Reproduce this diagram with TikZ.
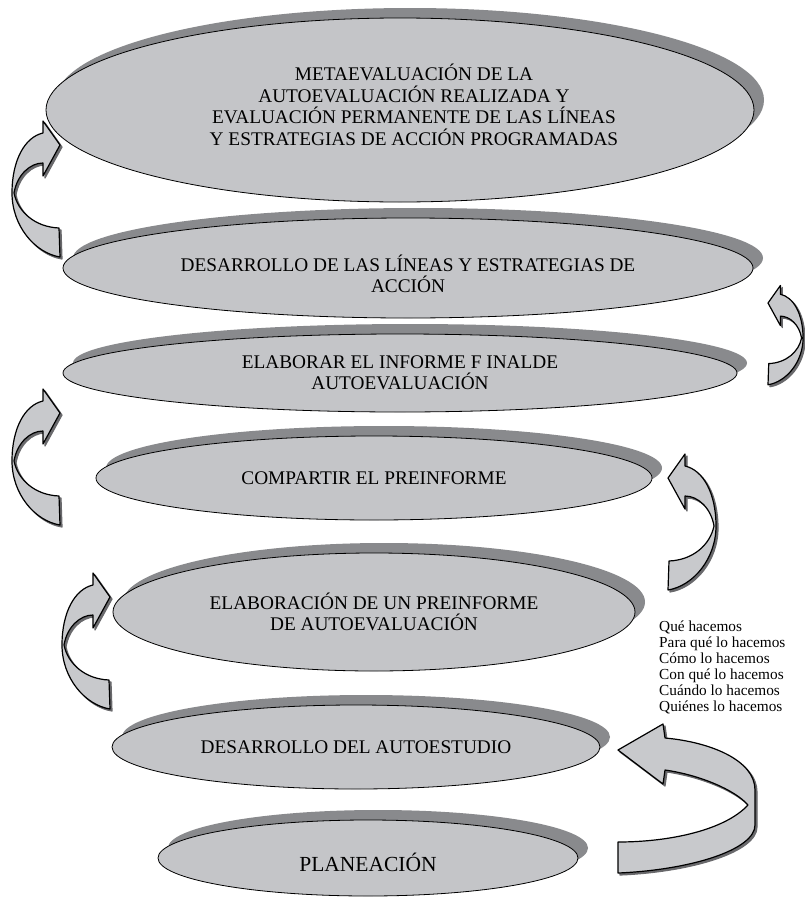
\documentclass[tikz,border=0pt]{standalone}
\usepackage{fontspec}
\setmainfont{Liberation Serif}
\usetikzlibrary{shapes.geometric,shadows}
\definecolor{ellfill}{RGB}{196,197,200}
\definecolor{ellshadow}{RGB}{137,138,141}
\definecolor{arrfill}{RGB}{200,201,204}
\definecolor{arrshadow}{RGB}{105,105,108}
\def\arrowApath{(60,257) .. controls (35,253) and (12,226) .. (12,193) .. controls (12,160) and (25,137) .. (43,133) -- (43,121) -- (60,145) -- (43,176) -- (43,163) .. controls (30,163) and (17,175) .. (14,193) .. controls (18,212) and (35,227) .. (59,228) -- cycle}
\def\arrowFpath{(618,873) .. controls (690,870) and (755,850) .. (755,825) -- (755,790) .. controls (755,760) and (710,742) .. (665,738) -- (663,724) -- (618,750) -- (663,784) -- (665,770) .. controls (700,775) and (735,790) .. (748,805) .. controls (725,830) and (670,842) .. (618,842) -- cycle}
\begin{document}
\begin{tikzpicture}[x=1pt,y=-1pt,
  ell/.style={ellipse, draw=black, line width=0.8pt, fill=ellfill, inner sep=0pt,
    general shadow={fill=ellshadow, shadow xshift=10pt, shadow yshift=10pt},
    font=\fontsize{19.3}{21.5}\selectfont, align=center},
  elltext/.style={font=\fontsize{19.3}{21.5}\selectfont, align=center, inner sep=0pt},
  curvarrow/.style={fill=arrfill, draw=black, line width=1.2pt, line join=round},
  arrshad/.style={fill=arrshadow, draw=arrshadow, line width=1.2pt, line join=round}]

\fill[white] (0,0) rectangle (805,897);
\useasboundingbox (0,0) rectangle (805,897);

% ellipses
\node[ell, minimum width=708pt, minimum height=184pt,
  label={[elltext, xshift=14pt, yshift=5pt]center:METAEVALUACIÓN DE LA\\AUTOEVALUACIÓN REALIZADA Y\\EVALUACIÓN PERMANENTE DE LAS LÍNEAS\\Y ESTRATEGIAS DE ACCIÓN PROGRAMADAS}] (e1) at (400,110) {};
\node[ell, minimum width=690pt, minimum height=100pt,
  label={[elltext, yshift=-6pt]center:DESARROLLO DE LAS LÍNEAS Y ESTRATEGIAS DE\\ACCIÓN}] (e2) at (408,268) {};
\node[ell, minimum width=674pt, minimum height=78pt] (e3) at (400,373) {ELABORAR EL INFORME F INALDE\\AUTOEVALUACIÓN};
\node[ell, minimum width=556pt, minimum height=84pt] (e4) at (374,478) {COMPARTIR EL PREINFORME};
\node[ell, minimum width=522pt, minimum height=118pt] (e5) at (374,612) {ELABORACIÓN DE UN PREINFORME\\DE AUTOEVALUACIÓN};
\node[ell, minimum width=488pt, minimum height=84pt] (e6) at (356,747) {DESARROLLO DEL AUTOESTUDIO};
\node[ell, minimum width=420pt, minimum height=76pt,
  label={[elltext, font=\fontsize{21.5}{24}\selectfont, yshift=-4pt]center:PLANEACIÓN}] (e7) at (368,858) {};

% list of questions
\node[anchor=north west, align=left, inner sep=0pt, font=\fontsize{15.3}{16}\selectfont] (list) at (659,621)
  {Qué hacemos\\Para qué lo hacemos\\Cómo lo hacemos\\Con qué lo hacemos\\Cuándo lo hacemos\\Quiénes lo hacemos};

% curved arrows, left side
\begin{scope}
  \path[arrshad, shift={(2,2)}] \arrowApath;
  \path[curvarrow] \arrowApath;
\end{scope}
\begin{scope}[shift={(0,268)}]
  \path[arrshad, shift={(2,2)}] \arrowApath;
  \path[curvarrow] \arrowApath;
\end{scope}
\begin{scope}[shift={(50,452)}]
  \path[arrshad, shift={(2,2)}] \arrowApath;
  \path[curvarrow] \arrowApath;
\end{scope}
% curved arrows, right side
\begin{scope}[shift={(811.8,197.15)}, xscale=-0.73, yscale=0.73]
  \path[arrshad, shift={(-2.7,2.7)}] \arrowApath;
  \path[curvarrow] \arrowApath;
\end{scope}
\begin{scope}[shift={(728,333)}, xscale=-1]
  \path[arrshad, shift={(-2,2)}] \arrowApath;
  \path[curvarrow] \arrowApath;
\end{scope}
\path[arrshad, shift={(2,2)}] \arrowFpath;
\path[curvarrow] \arrowFpath;
\end{tikzpicture}
\end{document}
